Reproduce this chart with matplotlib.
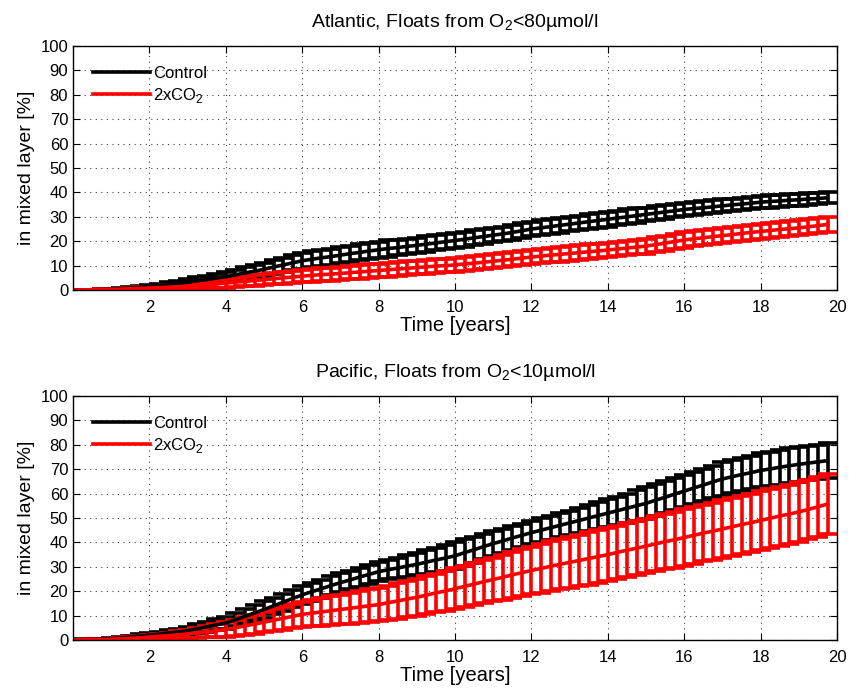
import numpy as np
import matplotlib
matplotlib.use('Agg')
import matplotlib.pyplot as plt
from matplotlib.lines import Line2D

plt.rcParams['font.family'] = ['Liberation Sans', 'DejaVu Sans']
plt.rcParams['mathtext.fontset'] = 'custom'
plt.rcParams['mathtext.rm'] = 'Liberation Sans'

# time axis: quarterly output, 0 .. 19.75 years
time = np.arange(0, 20, 0.25)

# Atlantic, floats from O2 < 80 umol/l  (mean and error, % in mixed layer)
atl_ctl = [0, 0.05, 0.1, 0.2, 0.3, 0.55, 0.85, 1.15, 1.5, 1.9, 2.3, 2.7,
           3.2, 3.8, 4.3, 4.9, 5.5, 6.2, 7.0, 7.7, 8.5, 9.4, 10.3, 11.1,
           12.0, 12.6, 13.2, 13.7, 14.3, 14.9, 15.4, 16.0, 16.5, 17.0, 17.4, 17.9,
           18.3, 18.8, 19.3, 19.8, 20.3, 20.8, 21.4, 21.9, 22.5, 23.0, 23.6, 24.3,
           25.0, 25.5, 26.0, 26.5, 27.0, 27.5, 28.0, 28.5, 29.0, 29.5, 30.0, 30.5,
           31.0, 31.5, 32.0, 32.5, 33.0, 33.4, 33.7, 34.1, 34.5, 34.9, 35.2, 35.6,
           36.0, 36.3, 36.5, 36.8, 37.0, 37.3, 37.5, 37.8]
atl_ctl_err = [0, 0.05, 0.1, 0.15, 0.2, 0.3, 0.35, 0.45, 0.5, 0.7, 0.85, 1.0,
               1.2, 1.4, 1.6, 1.8, 2.0, 2.2, 2.3, 2.5, 2.6, 2.8, 2.9, 3.1,
               3.2, 3.2, 3.3, 3.3, 3.3, 3.3, 3.3, 3.3, 3.3, 3.3, 3.2, 3.2,
               3.2, 3.2, 3.1, 3.1, 3.1, 3.1, 3.0, 3.0, 3.0, 3.0, 3.0, 3.0,
               3.0, 3.0, 3.0, 3.0, 3.0, 3.0, 3.0, 3.0, 3.0, 3.0, 3.0, 3.0,
               2.8, 2.8, 2.8, 2.7, 2.7, 2.7, 2.6, 2.6, 2.6, 2.6, 2.5, 2.5,
               2.5, 2.5, 2.4, 2.4, 2.4, 2.4, 2.3, 2.3]
atl_co2 = [0, 0.05, 0.1, 0.15, 0.2, 0.35, 0.5, 0.65, 0.8, 1.0, 1.15, 1.3,
           1.5, 1.8, 2.1, 2.5, 2.8, 3.2, 3.5, 3.9, 4.2, 4.6, 5.0, 5.3,
           5.7, 6.0, 6.3, 6.5, 6.8, 7.1, 7.4, 7.7, 8.0, 8.3, 8.6, 8.9,
           9.2, 9.5, 9.8, 10.0, 10.3, 10.7, 11.0, 11.4, 11.8, 12.2, 12.6, 13.1,
           13.5, 13.9, 14.3, 14.6, 15.0, 15.3, 15.7, 16.0, 16.4, 16.8, 17.2, 17.6,
           18.0, 18.6, 19.2, 19.9, 20.5, 21.0, 21.4, 21.9, 22.3, 22.7, 23.2, 23.6,
           24.0, 24.4, 24.8, 25.1, 25.5, 25.9, 26.4, 26.9]
atl_co2_err = [0, 0.05, 0.1, 0.15, 0.2, 0.25, 0.35, 0.4, 0.5, 0.6, 0.75, 0.9,
               1.0, 1.2, 1.4, 1.6, 1.8, 1.9, 2.0, 2.1, 2.2, 2.3, 2.4, 2.4,
               2.5, 2.6, 2.6, 2.7, 2.7, 2.7, 2.8, 2.8, 2.8, 2.8, 2.8, 2.8,
               2.8, 2.8, 2.8, 2.8, 2.8, 2.8, 2.8, 2.8, 2.9, 2.9, 2.9, 2.9,
               3.0, 3.0, 3.0, 3.0, 3.0, 3.0, 3.0, 3.0, 3.0, 3.0, 3.0, 3.0,
               3.1, 3.1, 3.1, 3.1, 3.1, 3.1, 3.1, 3.1, 3.1, 3.1, 3.1, 3.1,
               3.1, 3.1, 3.1, 3.1, 3.1, 3.1, 3.1, 3.1]

# Pacific, floats from O2 < 10 umol/l
pac_ctl = [0, 0.1, 0.2, 0.35, 0.5, 0.8, 1.2, 1.6, 2.0, 2.4, 2.9, 3.3,
           3.8, 4.6, 5.4, 6.2, 7.0, 8.3, 9.7, 11.1, 12.5, 14.0, 15.5, 17.0,
           18.5, 19.8, 21.0, 22.3, 23.5, 24.6, 25.8, 26.9, 28.0, 28.8, 29.5, 30.3,
           31.0, 31.9, 32.8, 33.6, 34.5, 35.8, 37.0, 38.3, 39.5, 40.6, 41.8, 42.9,
           44.0, 45.0, 46.0, 47.0, 48.0, 49.0, 50.0, 51.0, 52.0, 53.0, 54.0, 55.0,
           56.0, 57.3, 58.5, 59.8, 61.0, 62.3, 63.5, 64.8, 66.0, 66.9, 67.8, 68.6,
           69.5, 70.1, 70.8, 71.4, 72.0, 72.5, 73.0, 73.5]
pac_ctl_err = [0, 0.1, 0.15, 0.2, 0.3, 0.4, 0.55, 0.65, 0.8, 1.0, 1.2, 1.4,
               1.6, 1.8, 2.0, 2.2, 2.4, 2.6, 2.9, 3.1, 3.3, 3.4, 3.5, 3.5,
               3.6, 3.7, 3.7, 3.8, 3.8, 3.8, 3.9, 3.9, 3.9, 4.0, 4.2, 4.4,
               4.5, 4.8, 5.0, 5.3, 5.5, 5.4, 5.3, 5.1, 5.0, 4.9, 4.9, 4.8,
               4.8, 4.8, 4.9, 4.9, 5.0, 5.2, 5.3, 5.5, 5.6, 5.8, 6.0, 6.3,
               6.5, 6.5, 6.5, 6.5, 6.5, 6.6, 6.7, 6.7, 6.8, 6.8, 6.9, 6.9,
               7.0, 7.0, 7.1, 7.1, 7.1, 7.1, 7.1, 7.1]
pac_co2 = [0, 0.05, 0.1, 0.2, 0.3, 0.5, 0.7, 0.9, 1.2, 1.5, 1.8, 2.1,
           2.5, 2.9, 3.4, 3.8, 4.3, 5.0, 5.8, 6.5, 7.3, 8.1, 8.9, 9.7,
           10.5, 11.0, 11.5, 12.0, 12.5, 13.0, 13.5, 14.0, 14.5, 15.3, 16.0, 16.8,
           17.5, 18.4, 19.3, 20.1, 21.0, 22.0, 22.9, 23.9, 24.8, 25.7, 26.7, 27.6,
           28.5, 29.3, 30.2, 31.0, 31.8, 32.6, 33.4, 34.2, 35.0, 35.9, 36.8, 37.6,
           38.5, 39.4, 40.3, 41.1, 42.0, 42.9, 43.8, 44.6, 45.5, 46.4, 47.3, 48.1,
           49.0, 49.9, 50.8, 51.6, 52.5, 53.5, 54.6, 55.7]
pac_co2_err = [0, 0.05, 0.15, 0.2, 0.3, 0.4, 0.5, 0.65, 0.8, 1.0, 1.2, 1.5,
               1.7, 2.0, 2.3, 2.7, 3.0, 3.3, 3.6, 3.9, 4.2, 4.5, 4.7, 4.9,
               5.0, 5.3, 5.6, 5.9, 6.1, 6.3, 6.5, 6.7, 6.8, 7.0, 7.2, 7.3,
               7.5, 7.7, 7.9, 8.1, 8.3, 8.5, 8.7, 8.8, 9.0, 9.2, 9.4, 9.6,
               9.8, 10.0, 10.2, 10.3, 10.5, 10.6, 10.8, 10.9, 11.0, 11.0, 11.1, 11.1,
               11.2, 11.3, 11.3, 11.4, 11.5, 11.6, 11.6, 11.7, 11.8, 11.8, 11.9, 11.9,
               12.0, 12.0, 12.1, 12.1, 12.2, 12.2, 12.3, 12.3]

titles = ['Atlantic, Floats from O$_2$<80\u00b5mol/l',
          'Pacific, Floats from O$_2$<10\u00b5mol/l']
panels = [(atl_ctl, atl_ctl_err, atl_co2, atl_co2_err),
          (pac_ctl, pac_ctl_err, pac_co2, pac_co2_err)]
labels = ['Control', '2xCO$_2$']
colors = ['black', 'red']

fig = plt.figure(figsize=(8.5, 6.9), dpi=100)
ax_top = fig.add_axes([0.086, 0.5797, 0.8988, 0.3536])
ax_bot = fig.add_axes([0.086, 0.0725, 0.8988, 0.3536])

for ax, title, data in zip([ax_top, ax_bot], titles, panels):
    ctl, ctl_err, co2, co2_err = data
    for y, e, c in [(ctl, ctl_err, colors[0]), (co2, co2_err, colors[1])]:
        ax.errorbar(time, y, yerr=e, color=c, lw=2.6, elinewidth=2.6,
                    capsize=7, capthick=2.6)

    ax.set_xlim(0, 20)
    ax.set_ylim(0, 100)
    ax.set_xticks(np.arange(2, 21, 2))
    ax.set_yticks(np.arange(0, 101, 10))
    ax.tick_params(direction='in', top=True, right=True, length=5,
                   labelsize=12, width=0.8)
    ax.tick_params(axis='x', pad=7)
    ax.grid(True, linestyle=(0, (1, 4)), color='0.25', lw=0.8)
    for sp in ax.spines.values():
        sp.set_linewidth(1.0)

    ax.set_title(title, fontsize=14, pad=14)
    ax.set_xlabel('Time [years]', fontsize=14.5, labelpad=1)
    ax.set_ylabel('in mixed layer [%]', fontsize=14, labelpad=4)

    handles = [Line2D([], [], color=c, lw=2.6) for c in colors]
    ax.legend(handles, labels, loc='upper left', frameon=False, fontsize=12,
              handlelength=3.4, handletextpad=0.2, labelspacing=0.3,
              borderaxespad=0.8)

fig.savefig('out.png', dpi=100)
